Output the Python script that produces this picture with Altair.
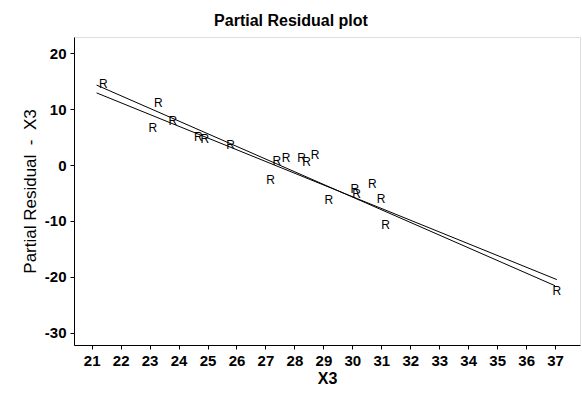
import altair as alt
import pandas as pd

# Partial residual points (X3, residual)
x3 = [21.40, 23.30, 23.11, 23.80, 24.68, 24.91, 25.80, 27.18, 27.39, 27.71,
      28.25, 28.42, 28.71, 29.19, 30.09, 30.15, 30.69, 30.99, 31.15, 37.06]
resid = [14.5, 11.1, 6.7, 7.9, 5.0, 4.7, 3.6, -2.7, 0.7, 1.2,
         1.2, 0.6, 1.8, -6.3, -4.3, -5.2, -3.4, -6.0, -10.7, -22.5]

# two fitted lines (endpoints)
line_id = ["A", "A", "B", "B"]
line_x = [21.17, 37.0, 21.17, 37.06]
line_y = [14.3, -21.6, 12.9, -20.5]

x_ticks = list(range(21, 38))
y_ticks = [20, 10, 0, -10, -20, -30]

pts = pd.DataFrame({"x": x3, "y": resid, "lab": ["R"] * len(x3)})
lines = pd.DataFrame({"id": line_id, "x": line_x, "y": line_y})

FONT = "Liberation Sans"
NB = "\u00a0"

xscale = alt.Scale(domain=[20.39, 37.86], nice=False, zero=False)
yscale = alt.Scale(domain=[-32.2, 22.9], nice=False, zero=False)

xaxis = alt.Axis(title="X3", values=x_ticks, tickCount=len(x_ticks), grid=False,
                 labelOverlap=False, labelExpr="'' + datum.value",
                 labelFont=FONT, labelFontSize=15, labelFontWeight="bold",
                 labelColor="black", titleFont=FONT, titleFontSize=16,
                 titleFontWeight="bold", titleColor="black", tickColor="black",
                 tickSize=4, labelPadding=4, titlePadding=2, domainColor="black")
yaxis = alt.Axis(title=f"Partial Residual{NB}{NB}-{NB}{NB}X3", values=y_ticks,
                 grid=False, labelOverlap=False, labelExpr="'' + datum.value",
                 labelFont=FONT, labelFontSize=15,
                 labelFontWeight="bold", labelColor="black", titleFont=FONT,
                 titleFontSize=17, titleFontWeight="normal", titleColor="black",
                 tickColor="black", tickSize=4, labelPadding=4, titlePadding=5,
                 domainColor="black")

line_layer = alt.Chart(lines).mark_line(color="black", strokeWidth=1).encode(
    x=alt.X("x:Q", scale=xscale, axis=xaxis),
    y=alt.Y("y:Q", scale=yscale, axis=yaxis),
    detail="id:N",
)

text_layer = alt.Chart(pts).mark_text(
    font=FONT, fontSize=12, color="black", align="center", baseline="middle"
).encode(
    x=alt.X("x:Q", scale=xscale, axis=xaxis),
    y=alt.Y("y:Q", scale=yscale, axis=yaxis),
    text="lab:N",
)

chart = alt.layer(line_layer, text_layer).properties(
    width=506, height=308,
    title=alt.TitleParams("Partial Residual plot", font=FONT, fontSize=16,
                          fontWeight="bold", color="black", anchor="middle",
                          dx=-36, offset=8),
    autosize=alt.AutoSizeParams(type="none"),
    padding={"left": 74, "top": 37, "right": 2, "bottom": 50},
).configure_view(stroke="black", strokeWidth=1).configure(background="white")

chart.save("out.html", embed_options={"renderer": "svg", "actions": False})
